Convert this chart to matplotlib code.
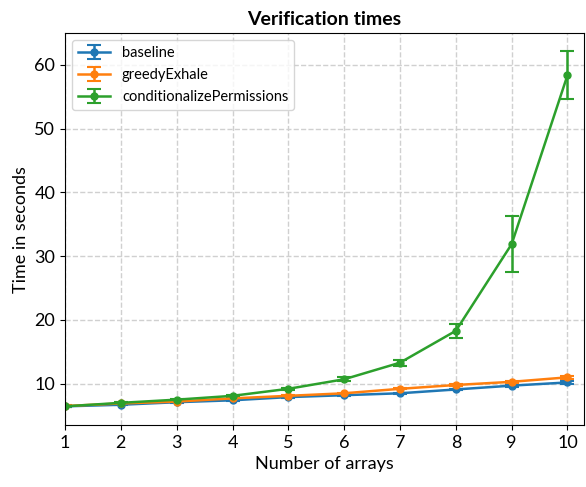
import numpy as np
import matplotlib.pyplot as plt

plt.rcParams['font.family'] = ['Lato', 'DejaVu Sans']

# data
arrays = [1, 2, 3, 4, 5, 6, 7, 8, 9, 10]
baseline = [6.45, 6.7, 7.1, 7.4, 7.9, 8.2, 8.5, 9.1, 9.7, 10.2]
baseline_err = [0.1, 0.1, 0.1, 0.1, 0.1, 0.1, 0.1, 0.1, 0.15, 0.2]
greedy = [6.5, 6.9, 7.2, 7.7, 8.1, 8.5, 9.2, 9.8, 10.3, 11.0]
greedy_err = [0.1, 0.1, 0.1, 0.1, 0.1, 0.1, 0.1, 0.1, 0.15, 0.2]
cond = [6.45, 7.0, 7.5, 8.1, 9.2, 10.7, 13.3, 18.3, 31.9, 58.4]
cond_err = [0.1, 0.1, 0.15, 0.15, 0.2, 0.3, 0.45, 1.05, 4.45, 3.8]

fig, ax = plt.subplots(figsize=(5.86, 4.87), dpi=100)
fig.subplots_adjust(left=0.111, right=0.997, top=0.932, bottom=0.127)

for vals, errs, lab, col in [(baseline, baseline_err, 'baseline', '#1f77b4'),
                             (greedy, greedy_err, 'greedyExhale', '#ff7f0e'),
                             (cond, cond_err, 'conditionalizePermissions', '#2ca02c')]:
    ax.errorbar(arrays, vals, yerr=errs, label=lab, color=col, marker='o',
                markersize=5, linewidth=1.8, capsize=5, elinewidth=1.8, capthick=1.5)

ax.set_xlim(1, 10.3)
ax.set_ylim(3.5, 65)
ax.set_xticks(arrays)
ax.set_yticks([10, 20, 30, 40, 50, 60])
ax.tick_params(labelsize=13)
ax.grid(True, linestyle='--', color='#d0d0d0', linewidth=1)
ax.set_axisbelow(True)
ax.set_title('Verification times', fontsize=14, fontweight='bold')
ax.set_xlabel('Number of arrays', fontsize=13)
ax.set_ylabel('Time in seconds', fontsize=13)
ax.legend(loc='upper left', fontsize=10.5, framealpha=0.8, labelspacing=0.55,
          handlelength=2.2)

fig.savefig('out.png', dpi=100)
